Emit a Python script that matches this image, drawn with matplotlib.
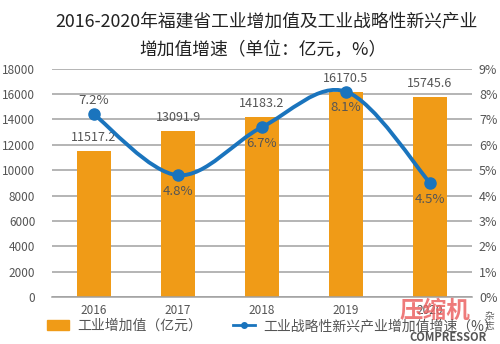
import matplotlib
matplotlib.use("Agg")
import matplotlib.pyplot as plt
from matplotlib.path import Path
from matplotlib.patches import PathPatch, Patch
from matplotlib.lines import Line2D

plt.rcParams["font.family"] = ["Noto Sans CJK SC", "DejaVu Sans"]

years = ["2016", "2017", "2018", "2019", "2020"]
added_value = [11517.2, 13091.9, 14183.2, 16170.5, 15745.6]
growth = [7.2, 4.8, 6.7, 8.1, 4.5]
growth_below = [False, True, True, True, True]

BAR = "#f09b17"
LINE = "#1a74bd"
TXT = "#555555"
GRID = "#a0a0a0"

fig = plt.figure(figsize=(5, 3.44), dpi=100)
ax = fig.add_axes([0.104, 0.137, 0.84, 0.663])
ax2 = ax.twinx()

x = list(range(len(years)))
ax.bar(x, added_value, width=0.4, color=BAR, zorder=2)
for xi, v in zip(x, added_value):
    ax.annotate(f"{v:.1f}", (xi, v), xytext=(0, 5), textcoords="offset points",
                ha="center", va="bottom", fontsize=9, color=TXT)

ax.set_xlim(-0.5, 4.5)
ax.set_ylim(0, 18000)
ax.set_yticks(range(0, 18001, 2000))
ax.yaxis.grid(True, color=GRID, lw=1.1, zorder=0)
ax.set_axisbelow(True)
ax.set_xticks(x)
ax.set_xticklabels(years)
ax.tick_params(axis="both", length=0, colors=TXT, labelsize=8.5)
ax.tick_params(axis="y", pad=12)
ax.tick_params(axis="x", pad=5)

ax2.set_ylim(0, 9)
ax2.set_yticks(range(0, 10))
ax2.set_yticklabels([f"{i}%" for i in range(10)])
ax2.tick_params(axis="y", length=0, colors=TXT, labelsize=9, pad=5)

for a in (ax, ax2):
    for s in a.spines.values():
        s.set_visible(False)
ax.spines["bottom"].set_visible(True)
ax.spines["bottom"].set_color(GRID)
ax.spines["bottom"].set_linewidth(1.1)

# smooth curve (Catmull-Rom as Bezier segments)
verts = [(x[0], growth[0])]
codes = [Path.MOVETO]
n = len(x)
for i in range(n - 1):
    p0 = (x[max(i - 1, 0)], growth[max(i - 1, 0)])
    p1 = (x[i], growth[i])
    p2 = (x[i + 1], growth[i + 1])
    p3 = (x[min(i + 2, n - 1)], growth[min(i + 2, n - 1)])
    c1 = (p1[0] + (p2[0] - p0[0]) / 6, p1[1] + (p2[1] - p0[1]) / 6)
    c2 = (p2[0] - (p3[0] - p1[0]) / 6, p2[1] - (p3[1] - p1[1]) / 6)
    verts += [c1, c2, p2]
    codes += [Path.CURVE4] * 3
ax2.add_patch(PathPatch(Path(verts, codes), fill=False, ec=LINE, lw=2.8, zorder=3))
ax2.plot(x, growth, "o", color=LINE, ms=8, zorder=4)
for xi, g, below in zip(x, growth, growth_below):
    off = -7 if below else 5
    ax2.annotate(f"{g}%", (xi, g), xytext=(0, off), textcoords="offset points",
                 ha="center", va="top" if below else "bottom", fontsize=9.5,
                 color=TXT, zorder=5)

fig.text(0.532, 0.937, "2016-2020年福建省工业增加值及工业战略性新兴产业",
         ha="center", va="center", fontsize=12.8, color="#222222")
fig.text(0.526, 0.855, "增加值增速（单位：亿元，%）",
         ha="center", va="center", fontsize=12.8, color="#222222")

handles = [Patch(color=BAR),
           Line2D([], [], color=LINE, lw=2, marker="o", ms=4)]
labels = ["工业增加值（亿元）", "工业战略性新兴产业增加值增速（%）"]
fig.legend(handles, labels, loc="center", bbox_to_anchor=(0.545, 0.052), ncol=2,
           frameon=False, fontsize=10, labelcolor=TXT, columnspacing=2.2,
           handlelength=1.6, handletextpad=0.6)

# magazine watermark
fig.text(0.80, 0.095, "压缩机", fontsize=17, color="#ec6464", alpha=0.85,
         fontweight="bold", ha="left", va="center")
fig.text(0.978, 0.068, "杂\n志", fontsize=7, color="#666666", ha="center",
         va="center", linespacing=1.0)
fig.text(0.895, 0.018, "COMPRESSOR", fontsize=8, color="#555555",
         fontweight="bold", ha="center", va="center")

fig.savefig("out.png", dpi=100, facecolor="white")
